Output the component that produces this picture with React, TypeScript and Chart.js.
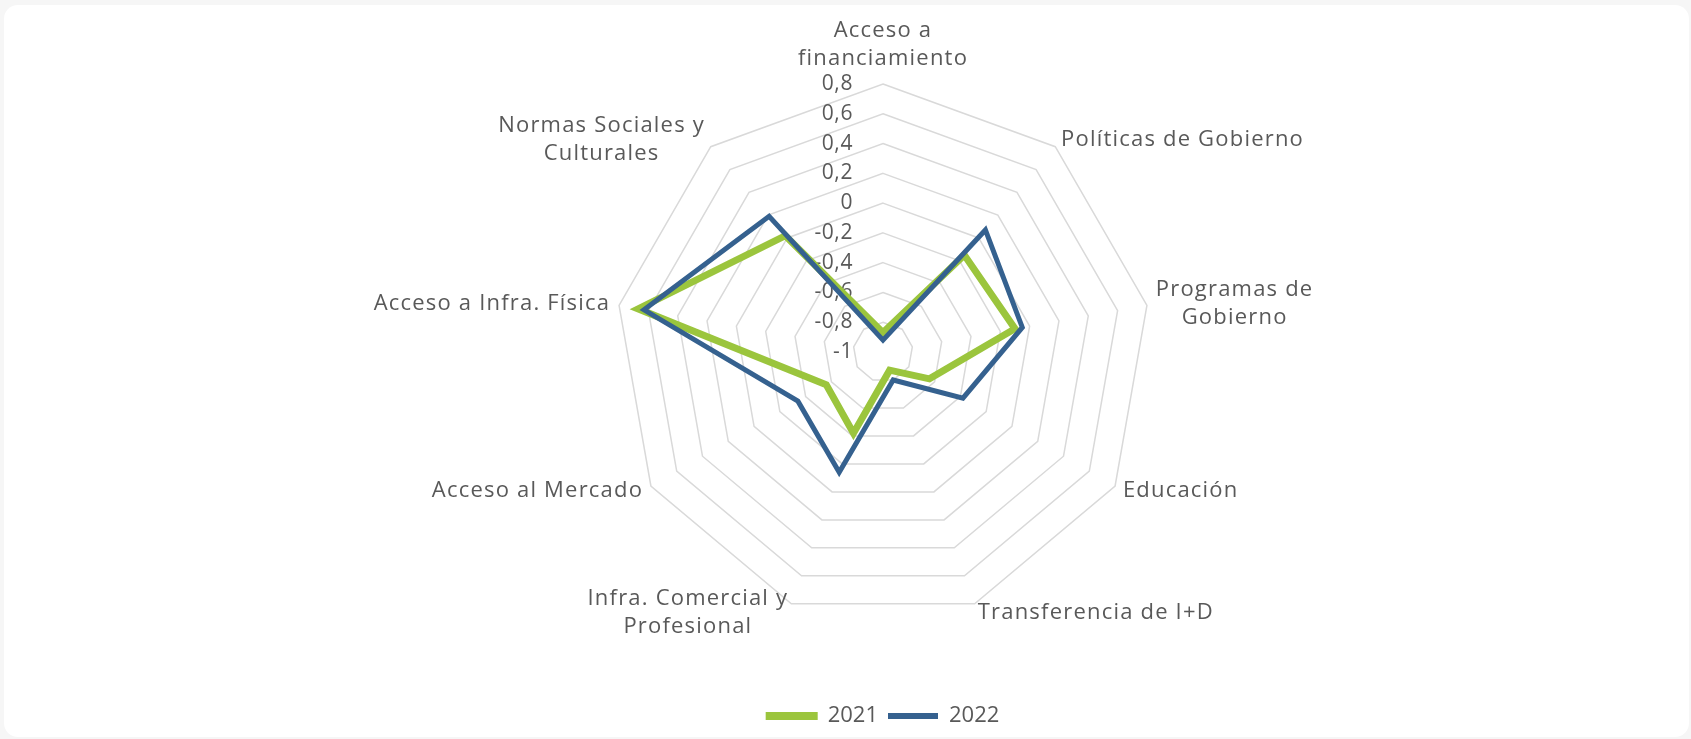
import React, { useEffect, useRef } from 'react';
import { Chart, registerables } from 'chart.js';

Chart.register(...registerables);

const CATEGORIES: string[][] = [
  ['Acceso a', 'financiamiento'],
  ['Políticas de Gobierno'],
  ['Programas de', 'Gobierno'],
  ['Educación'],
  ['Transferencia de I+D'],
  ['Infra. Comercial y', 'Profesional'],
  ['Acceso al Mercado'],
  ['Acceso a Infra. Física'],
  ['Normas Sociales y', 'Culturales'],
];

const SERIES_2021 = [-0.87, -0.15, -0.1, -0.64, -0.87, -0.42, -0.56, 0.67, 0.02];
const SERIES_2022 = [-0.92, 0.07, -0.05, -0.38, -0.8, -0.14, -0.34, 0.63, 0.19];

const TICK_LABELS = ['-1', '-0,8', '-0,6', '-0,4', '-0,2', '0', '0,2', '0,4', '0,6', '0,8'];

const TEXT_COLOR = '#595959';
const GREEN = '#9BC53D';
const BLUE = '#35618F';

const radarText = {
  id: 'radarText',
  beforeDatasetsDraw(chart: any) {
    const scale: any = chart.scales.r;
    const ctx = chart.ctx;
    ctx.save();
    ctx.font = '21px "Open Sans"';
    (ctx as any).letterSpacing = '0.6px';
    ctx.fillStyle = TEXT_COLOR;
    ctx.textAlign = 'right';
    ctx.textBaseline = 'middle';
    scale.ticks.forEach((t: any, i: number) => {
      const p = scale.getPointPositionForValue(0, t.value);
      ctx.fillText(TICK_LABELS[i] ?? String(t.value), scale.xCenter - 30, p.y);
    });
    ctx.restore();
  },
  afterDatasetsDraw(chart: any) {
    const scale: any = chart.scales.r;
    const ctx = chart.ctx;
    const labels = chart.data.labels as string[][];
    ctx.save();
    ctx.font = '22px "Open Sans"';
    (ctx as any).letterSpacing = '1.2px';
    ctx.fillStyle = TEXT_COLOR;
    ctx.textBaseline = 'middle';
    ctx.textAlign = 'center';
    const lh = 28;
    labels.forEach((lines, i) => {
      const p = scale.getPointPosition(i, scale.drawingArea + 9);
      const ang = scale.getIndexAngle(i);
      const s = Math.sin(ang);
      const c = Math.cos(ang);
      const w = Math.max(...lines.map((l) => ctx.measureText(l).width));
      const h = lines.length * lh;
      let cx = p.x;
      if (s > 0.1) cx = p.x + w / 2;
      else if (s < -0.1) cx = p.x - w / 2;
      let top = p.y - h / 2;
      if (Math.abs(s) <= 0.1) top = c > 0 ? p.y - h - 2 : p.y;
      lines.forEach((l, j) => ctx.fillText(l, cx, top + lh * j + lh / 2));
    });
    ctx.restore();
  },
};

export default function App() {
  const ref = useRef<HTMLCanvasElement>(null);

  useEffect(() => {
    const chart = new Chart(ref.current as HTMLCanvasElement, {
      type: 'radar',
      data: {
        labels: CATEGORIES,
        datasets: [
          {
            label: '2021',
            data: SERIES_2021,
            borderColor: GREEN,
            backgroundColor: GREEN,
            borderWidth: 7,
            borderJoinStyle: 'miter',
            pointRadius: 0,
            pointHoverRadius: 0,
            fill: false,
            order: 2,
          },
          {
            label: '2022',
            data: SERIES_2022,
            borderColor: BLUE,
            backgroundColor: BLUE,
            borderWidth: 5,
            borderJoinStyle: 'miter',
            pointRadius: 0,
            pointHoverRadius: 0,
            fill: false,
            order: 1,
          },
        ],
      },
      options: {
        responsive: false,
        animation: false,
        devicePixelRatio: 1,
        layout: { padding: { top: 84, bottom: 2, left: 300, right: 225 } },
        scales: {
          r: {
            min: -1,
            max: 0.8,
            ticks: { display: false, stepSize: 0.2 },
            pointLabels: { display: false },
            angleLines: { display: false },
            grid: { color: '#d9d9d9', lineWidth: 1.5 },
          },
        },
        plugins: {
          tooltip: { enabled: false },
          legend: {
            position: 'bottom',
            title: { display: true, text: '', padding: 0, font: { size: 75, lineHeight: 1 } },
            labels: {
              boxWidth: 50,
              boxHeight: 6,
              padding: 10,
              color: TEXT_COLOR,
              font: { family: 'Open Sans', size: 22 },
              sort: (a: any, b: any) => a.datasetIndex - b.datasetIndex,
              generateLabels: (ch: any) =>
                ch.data.datasets.map((ds: any, i: number) => ({
                  text: ds.label,
                  fillStyle: ds.borderColor,
                  strokeStyle: ds.borderColor,
                  lineWidth: i === 0 ? 2 : 0,
                  hidden: false,
                  datasetIndex: i,
                  fontColor: TEXT_COLOR,
                })),
            },
          },
        },
      } as any,
      plugins: [radarText],
    });
    return () => chart.destroy();
  }, []);

  return (
    <div style={{ position: 'fixed', inset: 0, background: '#f6f6f6' }}>
      <div
        style={{
          position: 'absolute',
          left: 4,
          top: 5,
          width: 1685,
          height: 732,
          background: '#ffffff',
          borderRadius: 14,
        }}
      />
      <canvas
        ref={ref}
        width={1691}
        height={739}
        style={{ position: 'absolute', left: 0, top: 0, width: 1691, height: 739, display: 'block' }}
      />
    </div>
  );
}
